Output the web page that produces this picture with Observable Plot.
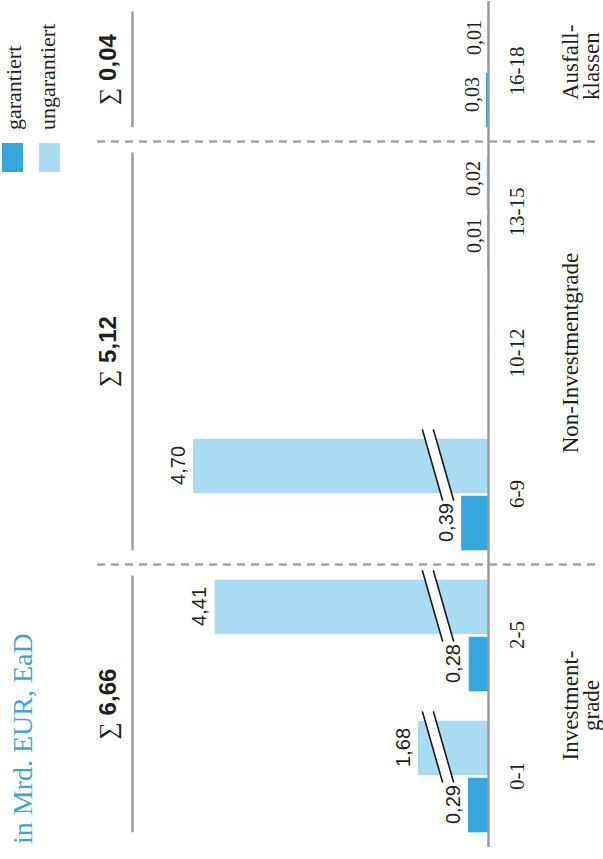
<!DOCTYPE html>
<html>
<head>
<meta charset="utf-8">
<script src="https://cdn.jsdelivr.net/npm/d3@7"></script>
<script src="https://cdn.jsdelivr.net/npm/@observablehq/plot@0.6"></script>
<style>
html, body { margin: 0; padding: 0; background: #fff; overflow: hidden; width: 603px; height: 859px; }
#land { position: absolute; left: 0; top: 0; width: 859px; height: 603px; transform-origin: 0 0; transform: translate(0px, 859px) rotate(-90deg); }
#chart { position: absolute; left: 0; top: 0; }
#title { position: absolute; left: 15px; top: 9px; font: 28px/28px "Liberation Serif", serif; color: #3aa6de; white-space: nowrap; }
.lg { position: absolute; left: 729px; font: 22px/22px "Liberation Serif", serif; color: #222; white-space: nowrap; }
.sw { position: absolute; left: 687px; width: 29px; height: 21px; }
</style>
</head>
<body>
<div id="land">
  <div id="chart"></div>
  <div id="title">in Mrd. EUR, EaD</div>
  <div id="legend"></div>
</div>
<script>
// ---- data ----
const categories = ["0-1", "2-5", "6-9", "10-12", "13-15", "16-18"];
const garantiert = [0.29, 0.28, 0.39, null, 0.01, 0.03];
const ungarantiert = [1.68, 4.41, 4.70, null, 0.02, 0.01];
const seriesNames = ["garantiert", "ungarantiert"];
const categoryGroup = ["Investment-\ngrade", "Investment-\ngrade", "Non-Investmentgrade", "Non-Investmentgrade", "Non-Investmentgrade", "Ausfall-\nklassen"];
const title = "in Mrd. EUR, EaD";

// ---- styles ----
const seriesColors = ["#36a6de", "#a9dcf3"];
const grey = "#9c9c9e";
const ink = "#231f20";

const fmt = v => d3.format(".2f")(v).replace(".", ",");

// rows
const rows = [];
categories.forEach((c, i) => {
  if (garantiert[i] != null) rows.push({i, cat: c, series: "garantiert", v: garantiert[i]});
  if (ungarantiert[i] != null) rows.push({i, cat: c, series: "ungarantiert", v: ungarantiert[i]});
});
const OUT = 0.396, IN = 0.009;
const bx1 = d => d.series === "garantiert" ? d.i - OUT : d.i + IN;
const bx2 = d => d.series === "garantiert" ? d.i - IN : d.i + OUT;
const bxc = d => (bx1(d) + bx2(d)) / 2;

// groups derived from categories
const groupNames = [...new Set(categoryGroup)];
const groups = groupNames.map((g, k) => {
  const idx = categories.map((c, i) => i).filter(i => categoryGroup[i] === g);
  const first = d3.min(idx), last = d3.max(idx);
  const sum = d3.sum(idx, i => (garantiert[i] || 0) + (ungarantiert[i] || 0));
  return {k, label: g, first, last, sum, l1: first - 0.395, l2: last + 0.425};
});
const seps = groups.slice(1).map((g, k) => (groups[k].last + g.first) / 2);

// axis-break marks on the long (ungarantiert) bars
const brk = {hiA: 1.56, loA: 0.957, thick: 0.332, dTop: 0.252, dBot: -0.245};
const breakRows = rows.filter(d => d.series === "ungarantiert" && d.v > 1);
const breakPoly = breakRows.flatMap(d => {
  const c = bxc(d);
  return [
    {id: d.i, x: c + brk.dTop, y: brk.hiA},
    {id: d.i, x: c + brk.dBot, y: brk.loA},
    {id: d.i, x: c + brk.dBot, y: brk.loA - brk.thick},
    {id: d.i, x: c + brk.dTop, y: brk.hiA - brk.thick}
  ];
});
const breakLines = breakRows.flatMap(d => {
  const c = bxc(d);
  return [0, 1].flatMap(j => [
    {id: d.i + "-" + j, x: c + brk.dTop, y: brk.hiA - j * brk.thick},
    {id: d.i + "-" + j, x: c + brk.dBot, y: brk.loA - j * brk.thick}
  ]);
});

const zero = () => 0;

const chart = Plot.plot({
  width: 859,
  height: 603,
  marginLeft: 12,
  marginRight: 1,
  marginTop: 97,
  marginBottom: 3,
  x: {type: "linear", domain: [-0.5, categories.length - 0.5], axis: null},
  y: {type: "linear", domain: [0, 0.4, 1.68, 4.7], range: [488, 460.5, 418, 193], axis: null},
  color: {domain: seriesNames, range: seriesColors},
  style: {background: "transparent", color: ink},
  marks: [
    Plot.ruleX(seps, {stroke: "#a3a3a5", strokeWidth: 2.5, strokeDasharray: "8,6"}),
    Plot.rect(rows, {x1: bx1, x2: bx2, y1: zero, y2: "v", fill: "series"}),
    Plot.line(breakPoly, {x: "x", y: "y", z: "id", fill: "white", stroke: "none"}),
    Plot.line(breakLines, {x: "x", y: "y", z: "id", stroke: "#1a1a1a", strokeWidth: 1.6}),
    Plot.ruleY([0], {stroke: grey, strokeWidth: 2.5}),
    // value labels
    Plot.text(rows.filter(d => d.v >= 0.1), {x: bxc, y: "v", text: d => fmt(d.v), dy: -9, lineAnchor: "bottom",
      fontFamily: "Liberation Sans, Arial, sans-serif", fontSize: 20, fill: ink}),
    Plot.text(rows.filter(d => d.v < 0.1), {x: bxc, y: "v", text: d => fmt(d.v), dx: 5, dy: -7, lineAnchor: "bottom",
      fontFamily: "Liberation Serif, serif", fontSize: 20, fill: ink}),
    // category labels
    Plot.text(categories, {x: (d, i) => i, y: zero, text: d => d, dy: 35, lineAnchor: "bottom",
      fontFamily: "Liberation Serif, serif", fontSize: 21, fill: ink}),
    // group brackets and sums
    Plot.ruleY(groups, {x1: "l1", x2: "l2", y: zero, dy: -356, stroke: grey, strokeWidth: 2.5}),
    Plot.text(groups, {x: d => (d.l1 + d.l2) / 2, y: zero, dy: -373, dx: -19, text: () => "\u2211", textAnchor: "end",
      lineAnchor: "bottom", fontFamily: "Liberation Serif, serif", fontSize: 24, fill: ink}),
    Plot.text(groups, {x: d => (d.l1 + d.l2) / 2, y: zero, dy: -373, dx: -12, text: d => fmt(d.sum), textAnchor: "start",
      lineAnchor: "bottom", fontFamily: "Liberation Sans, Arial, sans-serif", fontWeight: "bold", fontSize: 24, fill: ink}),
    // group labels
    Plot.text(groups.filter(g => g.k < groups.length - 1), {x: d => (d.first + d.last) / 2, y: zero, dy: 75, text: "label",
      lineAnchor: "top", lineHeight: 0.9, fontFamily: "Liberation Serif, serif", fontSize: 23, fill: ink}),
    Plot.text(groups.filter(g => g.k === groups.length - 1), {x: "first", y: zero, dx: -29, dy: 75, text: "label",
      textAnchor: "start", lineAnchor: "top", lineHeight: 0.9, fontFamily: "Liberation Serif, serif", fontSize: 23, fill: ink})
  ]
});
document.getElementById("chart").appendChild(chart);
document.getElementById("title").textContent = title;

// legend
const legend = document.getElementById("legend");
seriesNames.forEach((name, k) => {
  const sw = document.createElement("div");
  sw.className = "sw";
  sw.style.top = (2 + k * 37) + "px";
  sw.style.background = seriesColors[k];
  legend.appendChild(sw);
  const t = document.createElement("div");
  t.className = "lg";
  t.style.top = (3 + k * 34) + "px";
  t.textContent = name;
  legend.appendChild(t);
});
</script>
</body>
</html>
